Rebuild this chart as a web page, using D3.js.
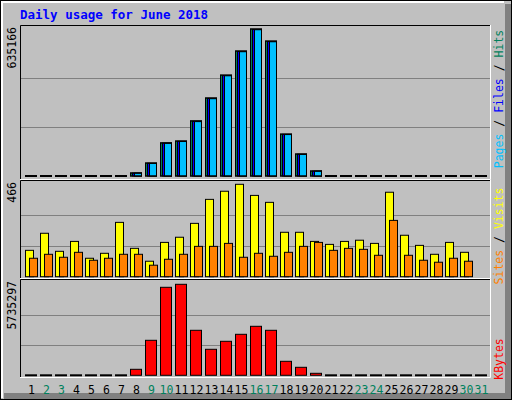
<!DOCTYPE html>
<html><head><meta charset="utf-8">
<script src="https://cdn.jsdelivr.net/npm/d3@7"></script>
<style>body{margin:0;background:#fff}text{font-family:"DejaVu Sans Mono",monospace}</style>
</head><body><div id="chart"></div>
<script>
// data
const days = d3.range(1, 32);
const weekend = [2, 3, 9, 10, 16, 17, 23, 24, 30, 31];
const hits   = [0,0,0,0,0,0,0,13000,56000,143000,151000,238000,337000,436000,540000,635166,583000,181000,95000,21600,0,0,0,0,0,0,0,0,0,0,0];
const files  = [0,0,0,0,0,0,0,12500,55000,142000,150000,236000,335000,434000,538000,633000,581000,180000,94000,21000,0,0,0,0,0,0,0,0,0,0,0];
const pages  = [0,0,0,0,0,0,0,12000,54000,141000,149000,235000,334000,433000,537000,632000,580000,179000,93000,20500,0,0,0,0,0,0,0,0,0,0,0];
const visits = [133,219,128,178,93,118,274,143,78,173,199,269,390,431,466,410,375,224,224,178,163,178,184,168,426,209,158,113,173,123,0];
const sites  = [93,113,98,123,83,93,113,113,58,88,113,153,153,168,98,118,103,123,153,173,133,143,138,108,284,108,83,73,93,78,0];
const kbytes = [0,0,0,0,0,0,0,378000,2206000,5546000,5735297,2836000,1639000,2143000,2584000,3088000,2836000,882000,504000,126000,0,0,0,0,0,0,0,0,0,0,0];

const W = 512, H = 400;
const svg = d3.select("#chart").append("svg").attr("width", W).attr("height", H);

// frame
svg.append("rect").attr("width", W).attr("height", H).attr("fill", "#c0c0c0");
svg.append("rect").attr("x", 505).attr("y", 4).attr("width", 7).attr("height", H).attr("fill", "#808080");
svg.append("rect").attr("x", 4).attr("y", 393).attr("width", W).attr("height", 7).attr("fill", "#808080");
svg.append("rect").attr("x", 0.5).attr("y", 0.5).attr("width", W - 1).attr("height", H - 1)
    .attr("fill", "none").attr("stroke", "#000");
svg.append("path").attr("d", "M2,398V2H504").attr("stroke", "#fff").attr("fill", "none").attr("stroke-width", 2);

svg.append("text").attr("x", 20).attr("y", 19).attr("fill", "#0000ff")
    .attr("font-weight", "bold").attr("font-size", 12.5).text("Daily usage for June 2018");

const x = d3.scaleBand().domain(days).range([25, 490]).paddingInner(0)
const colX = d => 25 + (d - 1) * 15;

// panels
const panels = [
  { top: 25, bottom: 180, y0: 176, y1: 29, max: 635166, label: "635166" },
  { top: 180, bottom: 279, y0: 276.7, y1: 184.3, max: 466, label: "466" },
  { top: 279, bottom: 378, y0: 375.3, y1: 284.3, max: 5735297, label: "5735297" }
];
panels.forEach(p => {
  p.y = d3.scaleLinear().domain([0, p.max]).range([p.y0, p.y1]);
  const g = svg.append("g");
  g.selectAll("line.grid").data([p.max / 3, p.max * 2 / 3]).join("line")
    .attr("x1", 21).attr("x2", 490).attr("y1", d => Math.round(p.y(d)) + 0.5).attr("y2", d => Math.round(p.y(d)) + 0.5)
    .attr("stroke", "#808080");
  g.append("path").attr("d", `M20.5,${p.bottom}V${p.top + 0.5}H491`).attr("stroke", "#000").attr("fill", "none");
  g.append("path").attr("d", `M20,${p.bottom - 0.5}H490.5V${p.top}`).attr("stroke", "#fff").attr("fill", "none");
  g.append("text").attr("transform", `translate(16,${p.top + 2}) rotate(-90)`)
    .attr("text-anchor", "end").attr("font-size", 11.5).attr("fill", "#000").text(p.label);
});

function bars(p, vals, dx, w, color) {
  svg.append("g").selectAll("rect").data(days).join("rect")
    .attr("x", d => colX(d) + dx + 0.5)
    .attr("y", (d, i) => vals[i] > 0 ? p.y(vals[i]) : p.y0 - 1)
    .attr("width", w)
    .attr("height", (d, i) => vals[i] > 0 ? p.y0 - p.y(vals[i]) : 0)
    .attr("fill", color).attr("stroke", "#000");
}
function zeros(p, vals) {
  svg.append("g").selectAll("rect").data(days.filter((d, i) => vals[i] === 0)).join("rect")
    .attr("x", d => colX(d)).attr("y", p.y0 - 1).attr("width", 12).attr("height", 2).attr("fill", "#000");
}

bars(panels[0], hits, 0, 11, "#00805c");
bars(panels[0], files, 2, 9, "#0000ff");
bars(panels[0], pages, 4, 7, "#00c0ff");
svg.append("g").selectAll("rect").data(days.filter((d, i) => pages[i] > 0)).join("rect")
  .attr("x", d => colX(d) + 0.5).attr("y", d => panels[0].y(hits[d - 1])).attr("width", 11)
  .attr("height", d => panels[0].y0 - panels[0].y(hits[d - 1])).attr("fill", "none").attr("stroke", "#000");
zeros(panels[0], hits);

bars(panels[1], visits, 0, 8, "#ffff00");
bars(panels[1], sites, 4, 8, "#ff8000");

bars(panels[2], kbytes, 0, 11, "#ff0000");
zeros(panels[2], kbytes);

// day labels
svg.append("g").selectAll("text").data(days).join("text")
  .attr("x", d => colX(d) + 6.5).attr("y", 394).attr("text-anchor", "middle").attr("font-size", 11.5)
  .attr("fill", d => weekend.includes(d) ? "#00805c" : "#000").text(d => d);

// right legends
function legend(cy, parts) {
  const t = svg.append("text").attr("transform", `translate(503,${cy}) rotate(-90)`)
    .attr("text-anchor", "middle").attr("font-size", 11.5);
  parts.forEach(([s, c]) => t.append("tspan").attr("fill", c).text(s));
}
legend(99, [["Pages", "#00c0ff"], [" / ", "#000"], ["Files", "#0000ff"], [" / ", "#000"], ["Hits", "#00805c"]]);
legend(236, [["Sites", "#ff8000"], [" / ", "#000"], ["Visits", "#ffff00"]]);
legend(359, [["KBytes", "#ff0000"]]);
</script></body></html>
